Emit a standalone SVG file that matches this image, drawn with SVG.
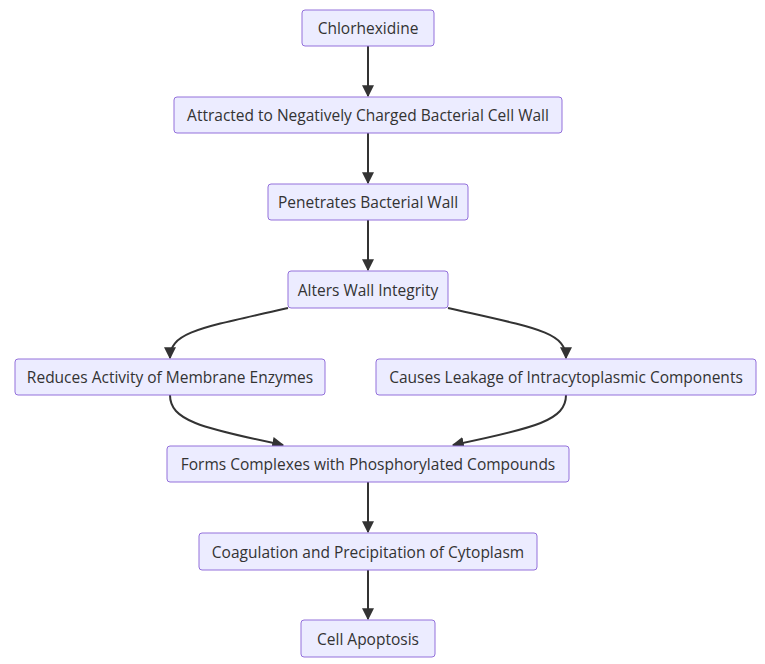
<svg xmlns="http://www.w3.org/2000/svg" width="765" height="664" viewBox="0 0 765 664">
<style>
.n rect{fill:#ECECFF;stroke:#9370DB;stroke-width:1}
.n text{font-family:"Open Sans","Noto Sans",sans-serif;font-size:15.5px;fill:#333;text-anchor:middle;dominant-baseline:central}
.e path{fill:none;stroke:#333;stroke-width:2;marker-end:url(#a)}
</style>
<defs><marker id="a" viewBox="0 0 10 10" refX="9" refY="5" markerWidth="6" markerHeight="6" orient="auto" markerUnits="strokeWidth"><path d="M0,0L10,5L0,10z" fill="#333"/></marker></defs>
<rect width="765" height="664" fill="#fff"/>
<g class="e">
<path d="M368,46V96"/>
<path d="M368,133V183"/>
<path d="M368,220V270"/>
<path d="M288,308C200,328 170,332 170,358"/>
<path d="M448,308C536,328 566,332 566,358"/>
<path d="M170,395C170,420 200,428 283,445"/>
<path d="M566,395C566,420 536,428 453,445"/>
<path d="M368,482V532"/>
<path d="M368,570V619"/>
</g>
<g class="n" id="n1"><rect x="302" y="10" width="132" height="36" rx="3"/><text x="368" y="28">Chlorhexidine</text></g>
<g class="n" id="n2"><rect x="174" y="97" width="388" height="36" rx="3"/><text x="368" y="115">Attracted to Negatively Charged Bacterial Cell Wall</text></g>
<g class="n" id="n3"><rect x="268" y="184" width="200" height="36" rx="3"/><text x="368" y="202">Penetrates Bacterial Wall</text></g>
<g class="n" id="n4"><rect x="288" y="271" width="160" height="37" rx="3"/><text x="368" y="290">Alters Wall Integrity</text></g>
<g class="n" id="n5"><rect x="15" y="359" width="310" height="36" rx="3"/><text x="170" y="377">Reduces Activity of Membrane Enzymes</text></g>
<g class="n" id="n6"><rect x="376" y="359" width="380" height="36" rx="3"/><text x="566" y="377">Causes Leakage of Intracytoplasmic Components</text></g>
<g class="n" id="n7"><rect x="167" y="446" width="402" height="36" rx="3"/><text x="368" y="464">Forms Complexes with Phosphorylated Compounds</text></g>
<g class="n" id="n8"><rect x="199" y="533" width="338" height="37" rx="3"/><text x="368" y="552">Coagulation and Precipitation of Cytoplasm</text></g>
<g class="n" id="n9"><rect x="301" y="620" width="134" height="37" rx="3"/><text x="368" y="639">Cell Apoptosis</text></g>
</svg>
